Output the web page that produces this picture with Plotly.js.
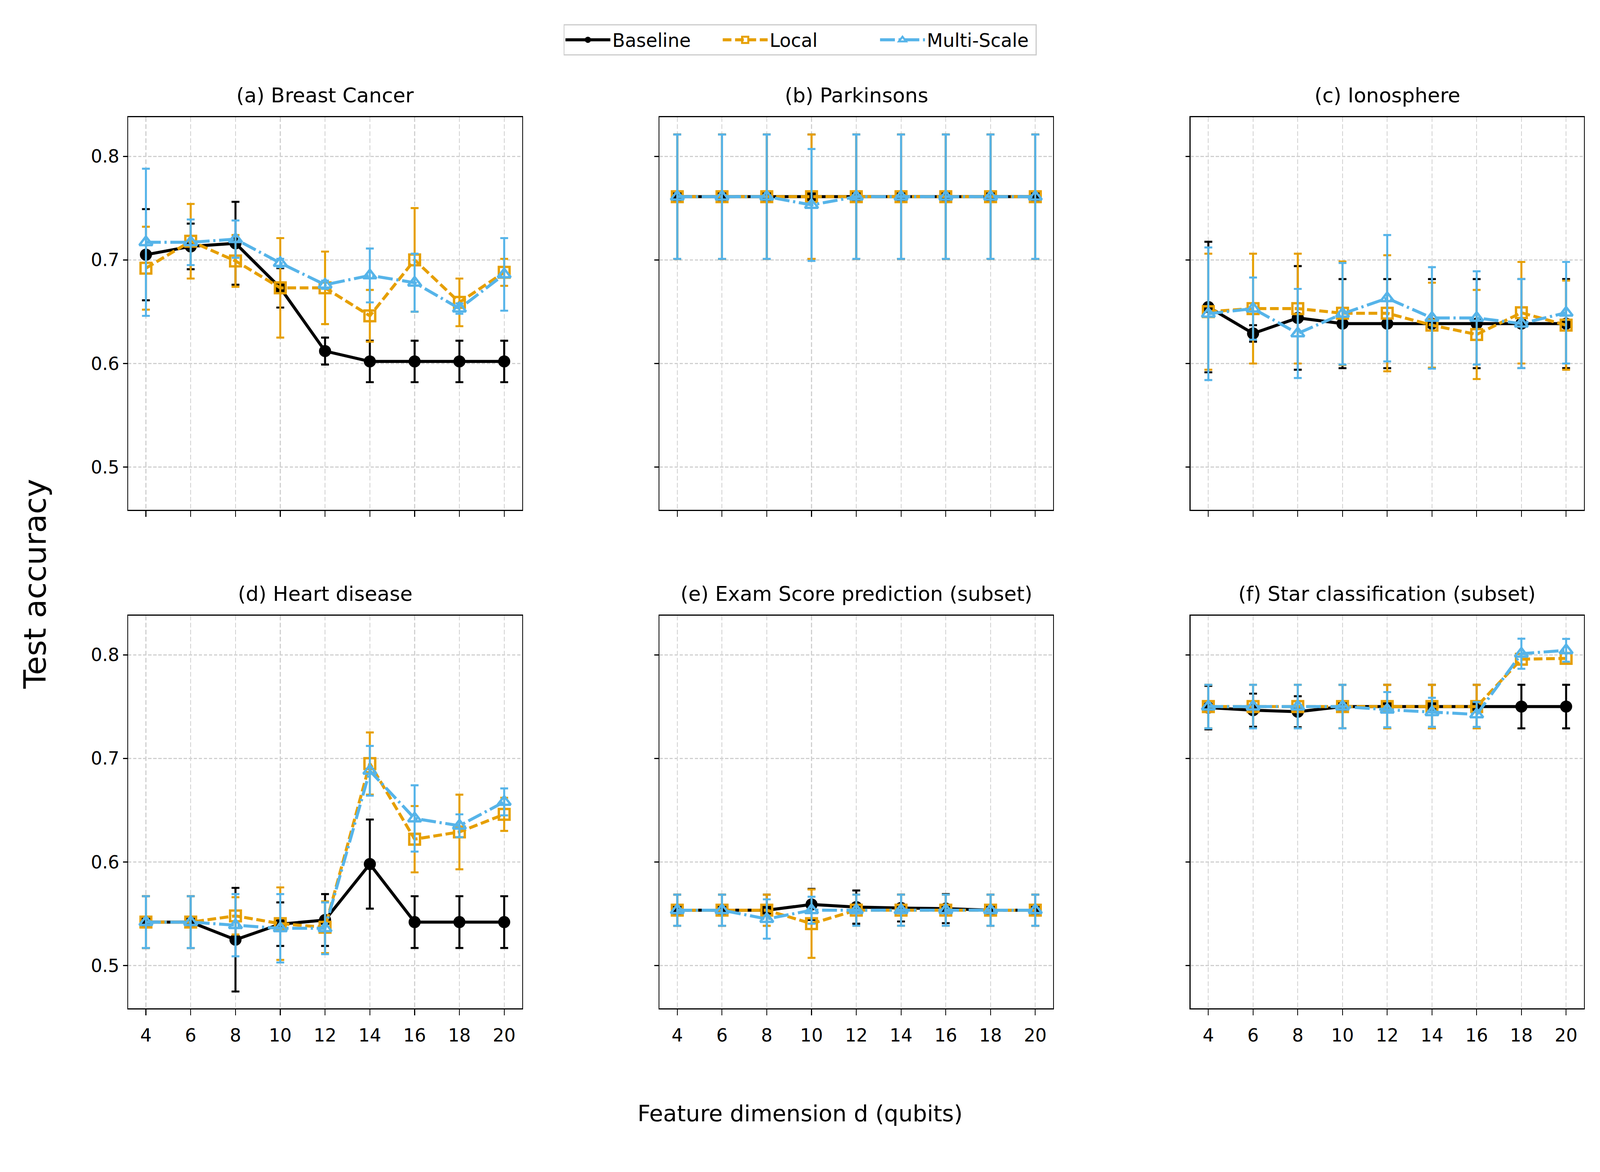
<!DOCTYPE html>
<html><head><meta charset="utf-8">
<script src="https://cdn.plot.ly/plotly-3.0.1.min.js"></script>
<style>html,body{margin:0;padding:0;background:#fff;overflow:hidden}</style>
</head><body><div id="chart"></div>
<script>
const qubits = [4, 6, 8, 10, 12, 14, 16, 18, 20];
const seriesNames = ['Baseline', 'Local', 'Multi-Scale'];
const panelTitles = ['(a) Breast Cancer', '(b) Parkinsons', '(c) Ionosphere',
  '(d) Heart disease', '(e) Exam Score prediction (subset)', '(f) Star classification (subset)'];
const xTicks = [4, 6, 8, 10, 12, 14, 16, 18, 20];
const yTicks = [0.5, 0.6, 0.7, 0.8];

// (a) Breast Cancer
const bcBase = [0.705, 0.713, 0.716, 0.673, 0.612, 0.602, 0.602, 0.602, 0.602];
const bcBaseErr = [0.044, 0.022, 0.040, 0.019, 0.013, 0.020, 0.020, 0.020, 0.020];
const bcLocal = [0.692, 0.718, 0.699, 0.673, 0.673, 0.646, 0.700, 0.659, 0.688];
const bcLocalErr = [0.040, 0.036, 0.025, 0.048, 0.035, 0.025, 0.050, 0.023, 0.013];
const bcMulti = [0.717, 0.717, 0.720, 0.697, 0.676, 0.685, 0.678, 0.653, 0.686];
const bcMultiErr = [0.071, 0.022, 0.018, 0.004, 0.004, 0.026, 0.028, 0.005, 0.035];

// (b) Parkinsons
const pkBase = [0.761, 0.761, 0.761, 0.761, 0.761, 0.761, 0.761, 0.761, 0.761];
const pkBaseErr = [0.060, 0.060, 0.060, 0.060, 0.060, 0.060, 0.060, 0.060, 0.060];
const pkLocal = [0.761, 0.761, 0.761, 0.761, 0.761, 0.761, 0.761, 0.761, 0.761];
const pkLocalErr = [0.060, 0.060, 0.060, 0.060, 0.060, 0.060, 0.060, 0.060, 0.060];
const pkMulti = [0.761, 0.761, 0.761, 0.753, 0.761, 0.761, 0.761, 0.761, 0.761];
const pkMultiErr = [0.060, 0.060, 0.060, 0.054, 0.060, 0.060, 0.060, 0.060, 0.060];

// (c) Ionosphere
const ioBase = [0.6545, 0.629, 0.644, 0.6385, 0.6385, 0.6385, 0.6385, 0.6385, 0.6385];
const ioBaseErr = [0.063, 0.008, 0.050, 0.043, 0.043, 0.043, 0.043, 0.043, 0.043];
const ioLocal = [0.650, 0.653, 0.653, 0.6485, 0.6485, 0.637, 0.628, 0.649, 0.637];
const ioLocalErr = [0.056, 0.053, 0.053, 0.050, 0.056, 0.041, 0.043, 0.049, 0.043];
const ioMulti = [0.648, 0.653, 0.629, 0.648, 0.663, 0.644, 0.644, 0.6385, 0.649];
const ioMultiErr = [0.064, 0.030, 0.043, 0.049, 0.061, 0.049, 0.045, 0.043, 0.049];

// (d) Heart disease
const hdBase = [0.542, 0.542, 0.525, 0.540, 0.544, 0.598, 0.542, 0.542, 0.542];
const hdBaseErr = [0.025, 0.025, 0.050, 0.021, 0.025, 0.043, 0.025, 0.025, 0.025];
const hdLocal = [0.542, 0.542, 0.548, 0.5405, 0.537, 0.695, 0.622, 0.629, 0.646];
const hdLocalErr = [0.025, 0.025, 0.018, 0.035, 0.025, 0.030, 0.032, 0.036, 0.016];
const hdMulti = [0.542, 0.542, 0.539, 0.536, 0.536, 0.688, 0.642, 0.635, 0.658];
const hdMultiErr = [0.025, 0.025, 0.030, 0.033, 0.025, 0.024, 0.032, 0.011, 0.013];

// (e) Exam Score prediction (subset)
const exBase = [0.5535, 0.5535, 0.5535, 0.559, 0.5565, 0.5556, 0.555, 0.5535, 0.5535];
const exBaseErr = [0.015, 0.015, 0.015, 0.015, 0.016, 0.013, 0.014, 0.015, 0.015];
const exLocal = [0.5535, 0.5535, 0.5535, 0.5405, 0.5535, 0.5535, 0.5535, 0.5535, 0.5535];
const exLocalErr = [0.015, 0.015, 0.015, 0.033, 0.015, 0.015, 0.015, 0.015, 0.015];
const exMulti = [0.5535, 0.5535, 0.545, 0.5535, 0.5535, 0.5535, 0.5535, 0.5535, 0.5535];
const exMultiErr = [0.015, 0.015, 0.019, 0.013, 0.015, 0.015, 0.015, 0.015, 0.015];

// (f) Star classification (subset)
const stBase = [0.749, 0.7465, 0.745, 0.750, 0.750, 0.750, 0.750, 0.750, 0.750];
const stBaseErr = [0.021, 0.016, 0.015, 0.021, 0.021, 0.021, 0.021, 0.021, 0.021];
const stLocal = [0.750, 0.750, 0.750, 0.750, 0.750, 0.750, 0.750, 0.7957, 0.7965];
const stLocalErr = [0.021, 0.021, 0.021, 0.021, 0.021, 0.021, 0.021, 0.005, 0.005];
const stMulti = [0.750, 0.750, 0.750, 0.750, 0.747, 0.7445, 0.7424, 0.801, 0.8043];
const stMultiErr = [0.021, 0.021, 0.021, 0.021, 0.017, 0.014, 0.012, 0.0145, 0.011];

const panels = [
  [[bcBase, bcBaseErr], [bcLocal, bcLocalErr], [bcMulti, bcMultiErr]],
  [[pkBase, pkBaseErr], [pkLocal, pkLocalErr], [pkMulti, pkMultiErr]],
  [[ioBase, ioBaseErr], [ioLocal, ioLocalErr], [ioMulti, ioMultiErr]],
  [[hdBase, hdBaseErr], [hdLocal, hdLocalErr], [hdMulti, hdMultiErr]],
  [[exBase, exBaseErr], [exLocal, exLocalErr], [exMulti, exMultiErr]],
  [[stBase, stBaseErr], [stLocal, stLocalErr], [stMulti, stMultiErr]]
];

// Reference canvas is 5700x3000; the chart fills the whole viewport,
// with positions as fractions and sizes scaled per direction.
const RW = 5700, RH = 3000;
const W = window.innerWidth || RW, H = window.innerHeight || RH;
const sx = W / RW, sy = H / RH;
const sm = (sx + sy) / 2;
const sf = Math.min(sx * 1.03, sy);     // font scale for horizontal text
const chartDiv = document.getElementById('chart');
chartDiv.style.width = W + 'px';
chartDiv.style.height = H + 'px';

const colors = ['#000000', '#E69F00', '#56B4E9'];
const dashes = ['solid', (31 * sx) + 'px,' + (13 * sx) + 'px',
  (53 * sx) + 'px,' + (13 * sx) + 'px,' + (8 * sx) + 'px,' + (13 * sx) + 'px'];
const symbols = ['circle', 'square-open', 'triangle-up-open'];
const msizes = [36, 32, 34];
const FONT = 'DejaVu Sans, Liberation Sans, sans-serif';

const colX = [[456, 1860], [2349, 3752], [4241, 5643]];
const rowY = [[300, 1305], [1576, 2581]];

const traces = [];
const legendFont = 66 * sx;
const layout = {
  width: W, height: H,
  margin: {l: 0, r: 0, t: 0, b: 0},
  paper_bgcolor: '#ffffff', plot_bgcolor: '#ffffff',
  font: {family: FONT, color: '#000000', size: 62 * sf},
  showlegend: true,
  legend: {
    orientation: 'h', x: 0.5, xanchor: 'center', y: 1 - 62 / RH, yanchor: 'top',
    bordercolor: '#cccccc', borderwidth: 3 * sm, bgcolor: '#ffffff',
    font: {family: FONT, size: legendFont, color: '#000000'},
    itemwidth: 160 * sx, itemsizing: 'trace',
    entrywidth: Math.max(375 * sx, 5.75 * legendFont), entrywidthmode: 'pixels'
  },
  annotations: []
};

for (let p = 0; p < 6; p++) {
  const r = Math.floor(p / 3), c = p % 3;
  const ax = p + 1;
  const xk = ax === 1 ? 'xaxis' : 'xaxis' + ax;
  const yk = ax === 1 ? 'yaxis' : 'yaxis' + ax;
  const common = {
    showline: true, linecolor: '#000000', mirror: true,
    ticks: 'outside', tickcolor: '#000000',
    showgrid: true, gridcolor: '#d0d0d0',
    zeroline: false, tickfont: {family: FONT, size: 62 * sf, color: '#000000'}
  };
  layout[xk] = Object.assign({}, common, {
    domain: [colX[c][0] / RW, colX[c][1] / RW],
    range: [3.2, 20.8], tickmode: 'array', tickvals: xTicks, ticktext: xTicks.map(String),
    showticklabels: r === 1, anchor: ax === 1 ? 'y' : 'y' + ax,
    linewidth: 3 * sy, ticklen: 15 * sy, tickwidth: 3 * sx, ticklabelstandoff: 12 * sy,
    gridwidth: 3 * sx, griddash: (12 * sy) + 'px,' + (6 * sy) + 'px'
  });
  layout[yk] = Object.assign({}, common, {
    domain: [1 - rowY[r][1] / RH, 1 - rowY[r][0] / RH],
    range: [0.4588, 0.8377], tickmode: 'array', tickvals: yTicks, ticktext: yTicks.map(v => v.toFixed(1)),
    showticklabels: c === 0, anchor: ax === 1 ? 'x' : 'x' + ax,
    linewidth: 3 * sx, ticklen: 15 * sx, tickwidth: 3 * sy,
    gridwidth: 3 * sy, griddash: (12 * sx) + 'px,' + (6 * sx) + 'px'
  });
  layout.annotations.push({
    text: panelTitles[p], xref: 'paper', yref: 'paper',
    x: (colX[c][0] + colX[c][1]) / 2 / RW, y: 1 - (rowY[r][0] - 56) / RH,
    xanchor: 'center', yanchor: 'middle', showarrow: false,
    font: {family: FONT, size: 70 * sf, color: '#000000'}
  });
  for (let s = 0; s < 3; s++) {
    traces.push({
      type: 'scatter', mode: 'lines+markers',
      x: qubits, y: panels[p][s][0],
      xaxis: ax === 1 ? 'x' : 'x' + ax, yaxis: ax === 1 ? 'y' : 'y' + ax,
      name: seriesNames[s], legendgroup: seriesNames[s], showlegend: p === 0,
      line: {color: colors[s], width: 9 * sm, dash: dashes[s]},
      marker: {symbol: symbols[s], size: msizes[s] * sm, color: colors[s],
        line: {color: colors[s], width: s === 0 ? 0 : 7 * sm}},
      error_y: {type: 'data', array: panels[p][s][1], visible: true,
        color: colors[s], thickness: 6 * sm, width: 14 * sx}
    });
  }
}

layout.annotations.push({
  text: 'Test accuracy', xref: 'paper', yref: 'paper', x: 125 / RW, y: 1 - 1495 / RH,
  xanchor: 'center', yanchor: 'middle', textangle: -90, showarrow: false,
  font: {family: FONT, size: 79 * sy, color: '#000000'}
});
layout.annotations.push({
  text: 'Feature dimension d (qubits)', xref: 'paper', yref: 'paper', x: 0.5, y: 1 - 2850 / RH,
  xanchor: 'center', yanchor: 'middle', showarrow: false,
  font: {family: FONT, size: 78 * sf, color: '#000000'}
});

Plotly.newPlot(chartDiv, traces, layout, {staticPlot: true, displayModeBar: false});
</script></body></html>
